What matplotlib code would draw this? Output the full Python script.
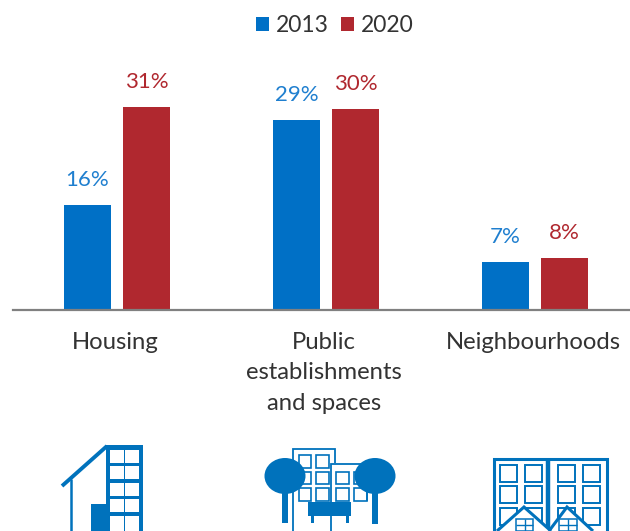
import matplotlib
matplotlib.use("Agg")
import matplotlib.pyplot as plt
from matplotlib.patches import Rectangle, Ellipse, Polygon
from matplotlib.transforms import ScaledTranslation
import numpy as np

categories = ["Housing", "Public\nestablishments\nand spaces", "Neighbourhoods"]
series_names = ["2013", "2020"]
values_2013 = [16.0, 29.0, 7.3]
values_2020 = [31.0, 30.7, 7.9]
labels_2013 = ["16%", "29%", "7%"]
labels_2020 = ["31%", "30%", "8%"]

BLUE = "#0070C6"
RED = "#B0282F"
TEXT = "#333333"
ICON = "#0072BC"
W, H = 630, 531
plt.rcParams["font.family"] = ["Lato", "DejaVu Sans"]

fig = plt.figure(figsize=(W / 100, H / 100), dpi=100)
base_y = 310
px_unit = 6.55
left, right, top = 13, 630, 60
ax = fig.add_axes([left / W, 1 - base_y / H, (right - left) / W, (base_y - top) / H])
group = 209
cx0 = 117
ax.set_xlim((left - cx0) / group, (right - cx0) / group)
ax.set_ylim(0, (base_y - top) / px_unit)
x = np.arange(len(categories))
bw = 47 / group
off = 29.5 / group
b1 = ax.bar(x - off, values_2013, bw, color=BLUE, label=series_names[0])
b2 = ax.bar(x + off, values_2020, bw, color=RED, label=series_names[1])
ax.bar_label(b1, labels=labels_2013, padding=11, color="#1F7FCF", fontsize=16)
ax.bar_label(b2, labels=labels_2020, padding=11, color=RED, fontsize=16)
for s in ["top", "left", "right"]:
    ax.spines[s].set_visible(False)
ax.spines["bottom"].set_color("#808080")
ax.spines["bottom"].set_linewidth(1.6)
ax.set_yticks([])
ax.set_xticks(x)
ax.set_xticklabels(categories, fontsize=17.2, color=TEXT, linespacing=1.56)
ax.tick_params(axis="x", length=0, pad=15.5)
for lab in ax.get_xticklabels():
    lab.set_transform(lab.get_transform() + ScaledTranslation(-2 / 100, 0, fig.dpi_scale_trans))
fig.legend(handles=[b1, b2], loc="center", bbox_to_anchor=(335 / W, 1 - 26 / H), ncol=2,
           frameon=False, fontsize=16.5, labelcolor=TEXT, handlelength=0.57, handleheight=0.57,
           handletextpad=0.3, columnspacing=0.55)

# pictograms, drawn on an overlay in pixel space
ov = fig.add_axes([0, 0, 1, 1], facecolor="none")
ov.set_xlim(0, W)
ov.set_ylim(H, 0)
ov.axis("off")

def rect(x0, y0, x1, y1, fc=ICON, ec="none", lw=0, z=3):
    ov.add_patch(Rectangle((x0, y0), x1 - x0, y1 - y0, facecolor=fc, edgecolor=ec, linewidth=lw, zorder=z))

def line(xs, ys, lw, z=4):
    ov.plot(xs, ys, color=ICON, lw=lw, solid_capstyle="butt", solid_joinstyle="miter", zorder=z)

# Housing icon
rect(106, 445, 143, 531)
for wy0, wy1 in [(450, 463), (466, 479), (483, 496), (499, 512), (516, 531)]:
    for wx0, wx1 in [(110, 124), (125, 139)]:
        rect(wx0, wy0, wx1, wy1, fc="white", z=4)
line([62, 107], [486, 446], 2.8)
line([70.7, 70.7], [479, 531], 1.8)
rect(91, 504, 106, 531)

# Public spaces icon
line([293, 293, 335, 335], [531, 448.5, 448.5, 463], 1.3)
line([331, 331, 367, 367], [531, 463.5, 463.5, 501], 1.3)
for wy0, wy1 in [(455, 468), (472, 484), (488, 501)]:
    for wx0, wx1 in [(299, 311), (316, 329)]:
        rect(wx0, wy0, wx1, wy1, fc="white", ec=ICON, lw=1.2)
for wy0, wy1 in [(472, 484), (488, 501)]:
    for wx0, wx1 in [(336, 349), (354, 367)]:
        rect(wx0, wy0, wx1, wy1, fc="white", ec=ICON, lw=1.2)
for cx, trunk_end in [(285, 523), (375, 524)]:
    ov.add_patch(Ellipse((cx, 476), 41, 36, facecolor=ICON, edgecolor="none", zorder=5))
    rect(cx - 3, 490, cx + 3, trunk_end, z=5)
rect(308, 502, 351, 516, z=5)
rect(311, 516, 314, 523, z=5)
rect(346, 516, 349, 523, z=5)

# Neighbourhoods icon
line([494, 494, 606.5, 606.5], [531, 459, 459, 531], 2.2)
line([548, 548], [459, 531], 3.2)
for wy0, wy1 in [(465, 482), (486, 503), (508, 525)]:
    for wx0, wx1 in [(499.5, 516.5), (524.5, 541.5), (557.5, 574.5), (582.5, 599.5)]:
        rect(wx0, wy0, wx1, wy1, fc="white", ec=ICON, lw=1.4)
for peak, xl, xr, wl, wr in [(524, 497, 551, 516, 533), (567, 549, 593, 559, 577)]:
    ov.add_patch(Polygon([(xl, 531), (peak, 507), (xr, 531)], closed=True, facecolor="white",
                         edgecolor="none", zorder=5))
    line([xl, peak, xr], [531, 507, 531], 2.2, z=6)
    rect(wl, 519, wr, 531, fc="white", ec=ICON, lw=1.1, z=6)
    line([(wl + wr) / 2] * 2, [519, 531], 1, z=6)
    line([wl, wr], [525, 525], 1, z=6)

fig.savefig("out.png", dpi=100)
